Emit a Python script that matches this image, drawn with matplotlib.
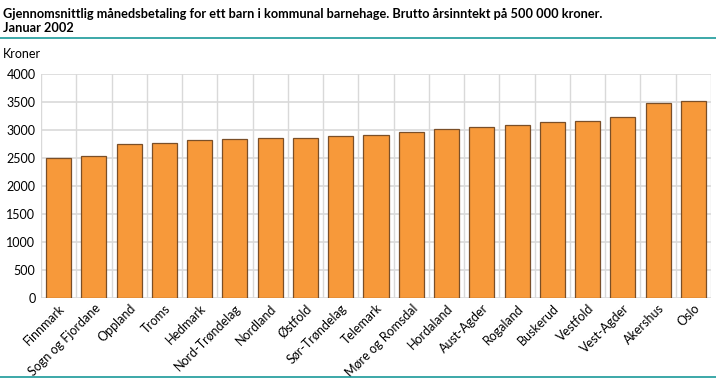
import matplotlib
matplotlib.use("Agg")
import matplotlib.pyplot as plt
from matplotlib.lines import Line2D

categories = ["Finnmark", "Sogn og Fjordane", "Oppland", "Troms", "Hedmark",
              "Nord-Trøndelag", "Nordland", "Østfold", "Sør-Trøndelag", "Telemark",
              "Møre og Romsdal", "Hordaland", "Aust-Agder", "Rogaland", "Buskerud",
              "Vestfold", "Vest-Agder", "Akershus", "Oslo"]
values = [2500, 2540, 2742, 2766, 2814, 2838, 2850, 2850, 2885, 2903,
          2957, 3010, 3052, 3082, 3136, 3154, 3225, 3487, 3523]
yticks = [0, 500, 1000, 1500, 2000, 2500, 3000, 3500, 4000]

plt.rcParams['font.family'] = ['Lato', 'DejaVu Sans']

fig = plt.figure(figsize=(7.16, 3.79), dpi=100)
ax = fig.add_axes([41/716, 1-298/379, (711-41)/716, (298-74)/379])

x = list(range(len(categories)))
ax.bar(x, values, width=0.71, color='#f7993a', edgecolor='#7a4f28', linewidth=0.9, zorder=3)

ax.set_xlim(-0.5, len(categories)-0.5)
ax.set_ylim(0, 4000)
ax.set_yticks(yticks)
ax.set_yticklabels([str(v) for v in yticks], fontsize=9)
ax.set_xticks(x)
ax.set_xticklabels(categories, rotation=45, ha='right', va='top', rotation_mode='anchor', fontsize=9)
ax.tick_params(axis='both', length=0, pad=4)
ax.tick_params(axis='x', pad=3)

# grid
ax.yaxis.grid(True, color='#d9d9d9', linewidth=1.2, zorder=0)
for b in [i + 0.5 for i in range(-1, len(categories))]:
    ax.axvline(b, color='#d9d9d9', linewidth=1.0, zorder=0)
for s in ax.spines.values():
    s.set_visible(False)

fig.text(3/716, 1-14/379, "Gjennomsnittlig månedsbetaling for ett barn i kommunal barnehage. Brutto årsinntekt på 500 000 kroner.",
         fontsize=9.2, fontweight='bold', ha='left', va='center')
fig.text(3/716, 1-28/379, "Januar 2002", fontsize=9.2, fontweight='bold', ha='left', va='center')
fig.text(3/716, 1-54/379, "Kroner", fontsize=9, ha='left', va='center')

fig.add_artist(Line2D([0, 1], [1-38/379, 1-38/379], color='#1a9a9a', linewidth=1.2, transform=fig.transFigure))
fig.add_artist(Line2D([0, 1], [1-377/379, 1-377/379], color='#1a9a9a', linewidth=1.2, transform=fig.transFigure))

fig.savefig("out.png", dpi=100)
